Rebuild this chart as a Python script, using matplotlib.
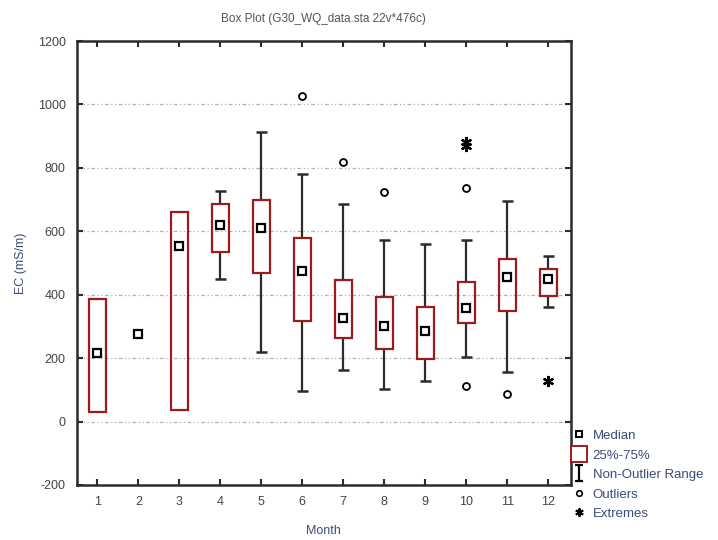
import numpy as np
import matplotlib.pyplot as plt
from matplotlib.lines import Line2D
from matplotlib.patches import Rectangle
from matplotlib.path import Path

plt.rcParams['font.family'] = ['Liberation Sans', 'DejaVu Sans']
plt.rcParams['axes.unicode_minus'] = False

months = np.arange(1, 13)
medians = [215, 275, 553, 620, 610, 475, 328, 300, 285, 358, 455, 450]
q1 = [30, None, 35, 535, 467, 318, 263, 228, 198, 310, 348, 397]
q3 = [385, None, 662, 687, 698, 578, 446, 392, 362, 440, 512, 480]
wlow = [None, None, None, 450, 218, 97, 163, 103, 127, 205, 157, 362]
whigh = [None, None, None, 728, 913, 782, 685, 572, 560, 572, 697, 523]
outlier_x = [6, 7, 8, 10, 10, 11]
outlier_y = [1028, 820, 724, 738, 113, 88]
extreme_x = [10, 10, 12]
extreme_y = [868, 880, 128]

box_red = '#9b1c1c'
dark = '#2b2b2b'
label_col = '#3d4a7a'
tick_col = '#444444'

fig = plt.figure(figsize=(7.18, 5.4), dpi=100)
ax = fig.add_axes([0.107, 0.102, 0.688, 0.822])

# grid
for yv in range(0, 1001, 200):
    ax.axhline(yv, color='#b0b0b0', lw=0.9, ls=(0, (3, 2, 1, 2, 1, 2)), zorder=0)

bw = 0.42
cw = 0.26
for m, md, a, b, lo, hi in zip(months, medians, q1, q3, wlow, whigh):
    if lo is not None:
        ax.vlines(m, lo, a, color=dark, lw=1.6, zorder=2)
        ax.vlines(m, b, hi, color=dark, lw=1.6, zorder=2)
        ax.hlines([lo, hi], m - cw / 2, m + cw / 2, color=dark, lw=1.8, zorder=2)
    if a is not None:
        ax.add_patch(Rectangle((m - bw / 2, a), bw, b - a, fill=False,
                               edgecolor=box_red, lw=1.6, zorder=3))
ax.plot(months, medians, ls='none', marker='s', ms=6, mfc='white',
        mec='black', mew=1.6, zorder=4)
ax.plot(outlier_x, outlier_y, ls='none', marker='o', ms=5, mfc='white',
        mec='black', mew=1.3, zorder=4)
ax.plot(extreme_x, extreme_y, ls='none', marker=(6, 2, 0), ms=8,
        mec='black', mew=1.6, zorder=4)

ax.set_xlim(0.5, 12.55)
ax.set_ylim(-200, 1200)
ax.set_xticks(months)
ax.set_yticks(range(-200, 1201, 200))
ax.tick_params(direction='in', length=4, width=1.5, colors=dark,
               top=True, right=True, labelsize=9, labelcolor=tick_col, pad=8)
for s in ax.spines.values():
    s.set_linewidth(1.8)
    s.set_color(dark)

ax.set_xlabel('Month', fontsize=9, color=label_col, labelpad=12)
ax.set_ylabel('EC (mS/m)', fontsize=9, color=label_col, labelpad=8)
ax.set_title('Box Plot (G30_WQ_data.sta 22v*476c)', fontsize=8.5,
             color='#555555', pad=14)

ibeam = Path([(-0.5, 1), (0.5, 1), (0, 1), (0, -1), (-0.5, -1), (0.5, -1)],
             [Path.MOVETO, Path.LINETO, Path.MOVETO, Path.LINETO,
              Path.MOVETO, Path.LINETO])
handles = [
    Line2D([], [], ls='none', marker='s', ms=5, mfc='white', mec='black', mew=1.4),
    Line2D([], [], ls='none', marker='s', ms=12, mfc='white', mec=box_red, mew=1.4),
    Line2D([], [], ls='none', marker=ibeam, ms=12, mec='black', mew=1.6),
    Line2D([], [], ls='none', marker='o', ms=4, mfc='white', mec='black', mew=1.2),
    Line2D([], [], ls='none', marker=(6, 2, 0), ms=6, mec='black', mew=1.4),
]
labels = ['Median', '25%-75%', 'Non-Outlier Range', 'Outliers', 'Extremes']
leg = fig.legend(handles, labels, loc='upper left', bbox_to_anchor=(0.797, 0.204),
                 frameon=False, fontsize=9.5, handlelength=1.0, handletextpad=0.55,
                 labelspacing=0.55, borderaxespad=0, borderpad=0)
for t in leg.get_texts():
    t.set_color(label_col)

fig.savefig('out.png', dpi=100)
